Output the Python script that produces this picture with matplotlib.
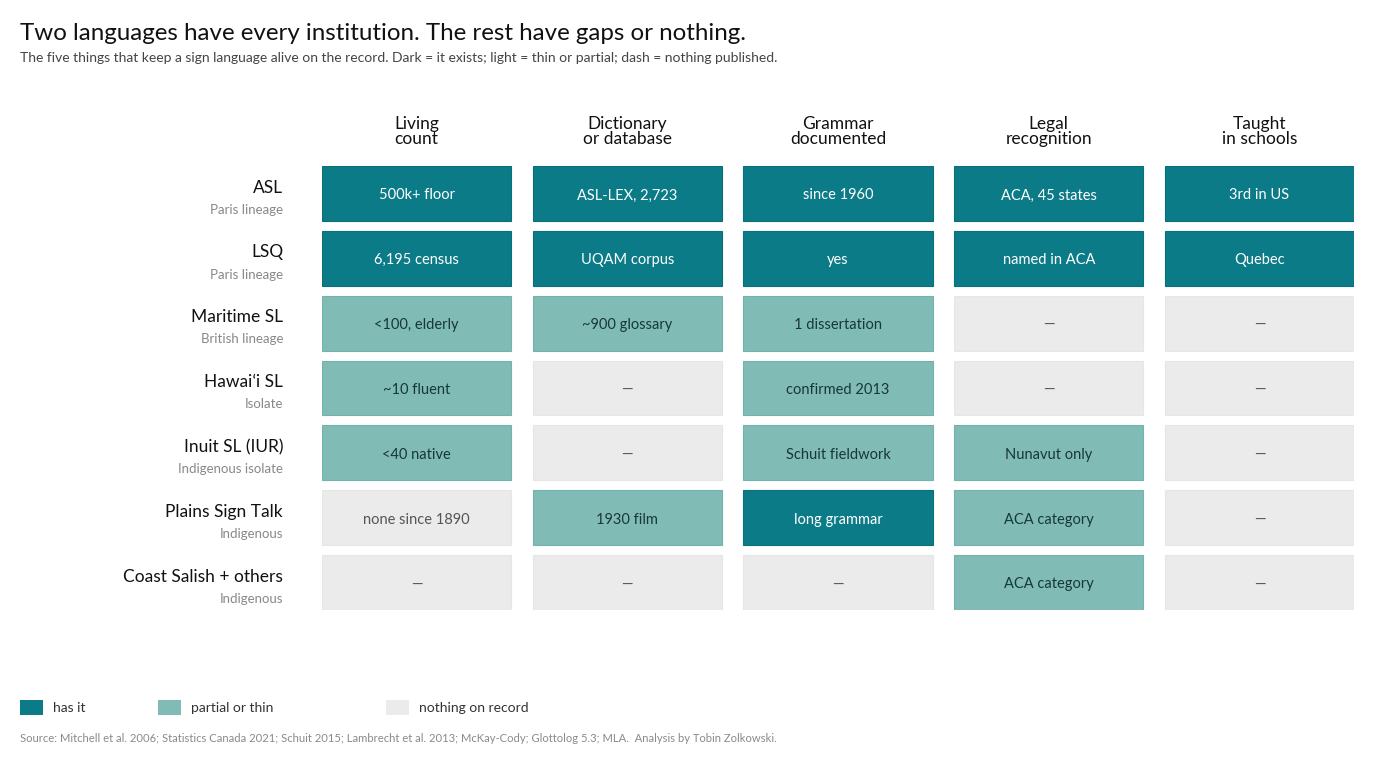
import matplotlib
matplotlib.use("Agg")
from matplotlib import pyplot as plt
from matplotlib.patches import Rectangle

plt.rcParams["font.family"] = ["Lato", "DejaVu Sans"]

# data
columns = ["Living\ncount", "Dictionary\nor database", "Grammar\ndocumented",
           "Legal\nrecognition", "Taught\nin schools"]
languages = ["ASL", "LSQ", "Maritime SL", "Hawai\u02bbi SL", "Inuit SL (IUR)",
             "Plains Sign Talk", "Coast Salish + others"]
lineages = ["Paris lineage", "Paris lineage", "British lineage", "Isolate",
            "Indigenous isolate", "Indigenous", "Indigenous"]
# 2 = has it, 1 = partial or thin, 0 = nothing on record
status = [
    [2, 2, 2, 2, 2],
    [2, 2, 2, 2, 2],
    [1, 1, 1, 0, 0],
    [1, 0, 1, 0, 0],
    [1, 0, 1, 1, 0],
    [0, 1, 2, 1, 0],
    [0, 0, 0, 1, 0],
]
labels = [
    ["500k+ floor", "ASL-LEX, 2,723", "since 1960", "ACA, 45 states", "3rd in US"],
    ["6,195 census", "UQAM corpus", "yes", "named in ACA", "Quebec"],
    ["<100, elderly", "~900 glossary", "1 dissertation", "\u2014", "\u2014"],
    ["~10 fluent", "\u2014", "confirmed 2013", "\u2014", "\u2014"],
    ["<40 native", "\u2014", "Schuit fieldwork", "Nunavut only", "\u2014"],
    ["none since 1890", "1930 film", "long grammar", "ACA category", "\u2014"],
    ["\u2014", "\u2014", "\u2014", "ACA category", "\u2014"],
]
legend_names = ["has it", "partial or thin", "nothing on record"]

fill = {2: "#0b7b88", 1: "#80bcb5", 0: "#ebebeb"}
edge = {2: "#0a6f7b", 1: "#74b3ac", 0: "#e6e6e6"}
txt = {2: "#ffffff", 1: "#173838", 0: "#555555"}

W, H = 1400, 763
fig = plt.figure(figsize=(W / 100, H / 100), dpi=100)

# grid axes in pixel placement
gx0, gx1, gy0, gy1 = 322, 1354, 166, 610
ax = fig.add_axes([gx0 / W, 1 - gy1 / H, (gx1 - gx0) / W, (gy1 - gy0) / H])
cw, ch = 0.897, 0.848
ax.set_xlim(-cw / 2, len(columns) - 1 + cw / 2)
ax.set_ylim(len(languages) - 1 + ch / 2, -ch / 2)
ax.axis("off")

for r in range(len(languages)):
    for c in range(len(columns)):
        s = status[r][c]
        ax.add_patch(Rectangle((c - cw / 2, r - ch / 2), cw, ch,
                               facecolor=fill[s], edgecolor=edge[s], lw=0.8))
        ax.text(c, r + 0.03, labels[r][c], ha="center", va="center",
                fontsize=10.5, color=txt[s])

for c, name in enumerate(columns):
    ax.text(c, -ch / 2 - 0.29, name, ha="center", va="bottom", fontsize=12.5,
            color="#111111", linespacing=0.95, clip_on=False)

for r, (lang, lin) in enumerate(zip(languages, lineages)):
    ax.text(-cw / 2 - 0.185, r - 0.09, lang, ha="right", va="center",
            fontsize=12.5, color="#111111", clip_on=False)
    ax.text(-cw / 2 - 0.185, r + 0.25, lin, ha="right", va="center",
            fontsize=9.5, color="#888888", clip_on=False)

fig.text(20 / W, 1 - 33 / H, "Two languages have every institution. The rest have gaps or nothing.",
         fontsize=17.4, color="#111111", va="center")
fig.text(20 / W, 1 - 58 / H,
         "The five things that keep a sign language alive on the record. "
         "Dark = it exists; light = thin or partial; dash = nothing published.",
         fontsize=10, color="#444444", va="center")

# legend
lax = fig.add_axes([0, 0, 1, 1], facecolor="none")
lax.set_xlim(0, W)
lax.set_ylim(H, 0)
lax.axis("off")
for x, s, name in zip([20, 158, 386], [2, 1, 0], legend_names):
    lax.add_patch(Rectangle((x, 700), 23, 15, facecolor=fill[s], edgecolor="none"))
    lax.text(x + 33, 708, name, fontsize=10, color="#333333", va="center")

fig.text(20 / W, 1 - 738 / H,
         "Source: Mitchell et al. 2006; Statistics Canada 2021; Schuit 2015; Lambrecht et al. 2013; "
         "McKay-Cody; Glottolog 5.3; MLA.  Analysis by Tobin Zolkowski.",
         fontsize=8.15, color="#8a8a8a", va="center")

fig.savefig("out.png", dpi=100, facecolor="white")
